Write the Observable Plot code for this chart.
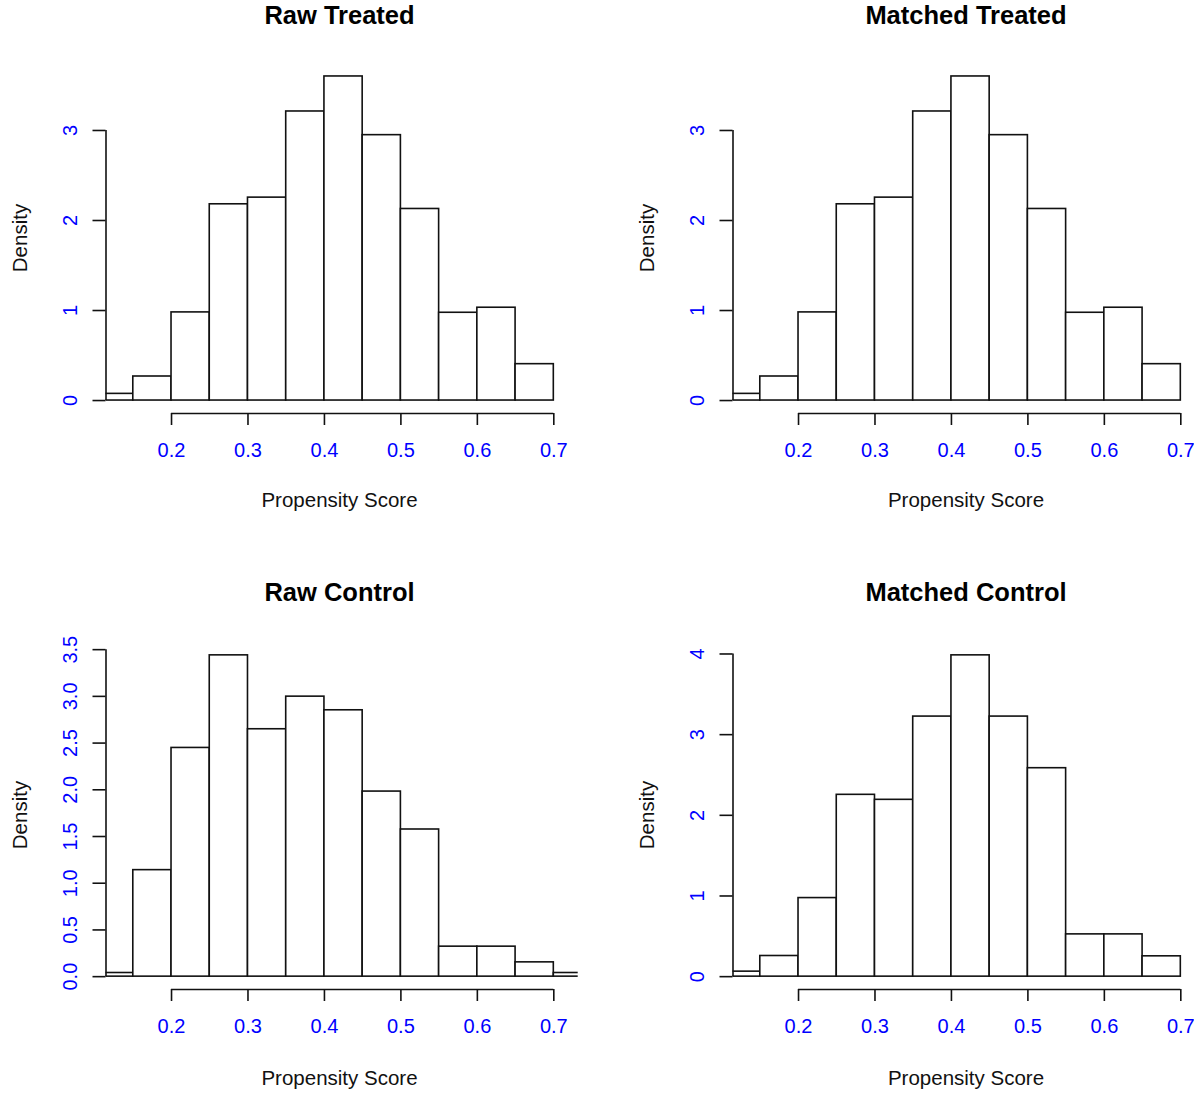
<!DOCTYPE html>
<html><head><meta charset="utf-8">
<script src="https://cdn.jsdelivr.net/npm/d3@7"></script>
<script src="https://cdn.jsdelivr.net/npm/@observablehq/plot@0.6"></script>
<style>
body{margin:0;background:#fff;}
#wrap{position:relative;width:1194px;height:1093px;overflow:hidden;background:#fff;font-family:"Liberation Sans",Arial,sans-serif;}
.panel{position:absolute;}
.title{position:absolute;width:400px;text-align:center;font-weight:bold;font-size:25.5px;line-height:25.5px;color:#000;white-space:nowrap;}
.xlab{position:absolute;width:400px;text-align:center;font-size:20.5px;line-height:20px;color:#111;white-space:nowrap;}
.ylab{position:absolute;width:200px;height:20px;text-align:center;font-size:20.5px;line-height:20px;color:#111;transform:rotate(-90deg);white-space:nowrap;}
</style></head><body><div id="wrap"></div>
<script>
// Bin edges of the histograms
const breaks = [0.10,0.15,0.20,0.25,0.30,0.35,0.40,0.45,0.50,0.55,0.60,0.65,0.70,0.75];
// Densities per bin
const rawTreated = [0.074,0.267,0.979,2.180,2.254,3.211,3.600,2.948,2.128,0.975,1.031,0.404];
const matchedTreated = [0.074,0.267,0.979,2.180,2.254,3.211,3.600,2.948,2.128,0.975,1.031,0.404];
const rawControl = [0.039,1.140,2.448,3.439,2.648,2.997,2.851,1.981,1.575,0.321,0.321,0.153,0.039];
const matchedControl = [0.062,0.256,0.974,2.254,2.192,3.224,3.983,3.224,2.584,0.524,0.524,0.252];
// Ticks
const xTicks = [0.2,0.3,0.4,0.5,0.6,0.7];
const yTicksTreated = [0,1,2,3];
const yTicksRawControl = [0,0.5,1,1.5,2,2.5,3,3.5];
const yTicksMatchedControl = [0,1,2,3,4];
// Visible x range of each plot region
const xlim = [0.1143, 0.7319];
// Texts
const titles = ["Raw Treated","Matched Treated","Raw Control","Matched Control"];
const xLabel = "Propensity Score";
const yLabel = "Density";

const wrap = document.getElementById("wrap");
const FONT = '"Liberation Sans", Arial, sans-serif';

function addDiv(cls, text, cx, cy, w, h) {
  const d = document.createElement("div");
  d.className = cls;
  d.textContent = text;
  d.style.left = (cx - w/2) + "px";
  d.style.top = (cy - h/2) + "px";
  wrap.appendChild(d);
}

function panel(opts) {
  const {title, dens, yTicks, yFmt, left, top, mt, ph, tcx, tcy, xcy, ycx, ycy} = opts;
  const bins = dens.map((d, i) => ({x1: breaks[i], x2: breaks[i+1], y: d}));
  const ymax = d3.max(dens);
  const ydom = [-0.04*ymax, 1.04*ymax];
  const W = 600, H = mt + ph + 75;
  const chart = Plot.plot({
    width: W, height: H,
    marginLeft: 105.5, marginRight: W - 577.7, marginTop: mt, marginBottom: H - mt - ph,
    x: {domain: xlim},
    y: {domain: ydom},
    style: {fontFamily: FONT, fontSize: "20px", background: "transparent", overflow: "visible"},
    marks: [
      Plot.rect(bins, {x1: "x1", x2: "x2", y1: 0, y2: "y", fill: "white", stroke: "#111", strokeWidth: 1.6, inset: 0, clip: true}),
      Plot.ruleX([xlim[0]], {y1: yTicks[0], y2: yTicks[yTicks.length-1], stroke: "#111", strokeWidth: 1.6}),
      Plot.ruleY([ydom[0]], {x1: xTicks[0], x2: xTicks[xTicks.length-1], stroke: "#111", strokeWidth: 1.6}),
      Plot.axisX(xTicks, {tickSize: 12, tickPadding: 17, tickFormat: d3.format(".1f"), fill: "blue", stroke: "#111", strokeWidth: 1.6, label: null}),
      Plot.axisY(yTicks, {tickSize: 13, tickPadding: 16, tickRotate: -90, tickFormat: yFmt, fill: "blue", stroke: "#111", strokeWidth: 1.6, label: null})
    ]
  });
  chart.classList.add("panel");
  chart.style.left = left + "px";
  chart.style.top = top + "px";
  chart.style.position = "absolute";
  wrap.appendChild(chart);
  addDiv("title", title, tcx, tcy, 400, 25.5);
  addDiv("xlab", xLabel, tcx, xcy, 400, 20);
  addDiv("ylab", yLabel, ycx, ycy, 200, 20);
}

const dx = 626.5;
panel({title: titles[0], dens: rawTreated, yTicks: yTicksTreated, yFmt: d3.format("d"),
  left: 0, top: 0, mt: 63, ph: 350, tcx: 339.5, tcy: 16, xcy: 500, ycx: 20, ycy: 238});
panel({title: titles[1], dens: matchedTreated, yTicks: yTicksTreated, yFmt: d3.format("d"),
  left: dx, top: 0, mt: 63, ph: 350, tcx: 339.5 + dx, tcy: 16, xcy: 500, ycx: 20 + dx, ycy: 238});
panel({title: titles[2], dens: rawControl, yTicks: yTicksRawControl, yFmt: d3.format(".1f"),
  left: 0, top: 578, mt: 64, ph: 347, tcx: 339.5, tcy: 593, xcy: 1078, ycx: 20, ycy: 815});
panel({title: titles[3], dens: matchedControl, yTicks: yTicksMatchedControl, yFmt: d3.format("d"),
  left: dx, top: 578, mt: 64, ph: 347, tcx: 339.5 + dx, tcy: 593, xcy: 1078, ycx: 20 + dx, ycy: 815});
</script>
</body></html>
